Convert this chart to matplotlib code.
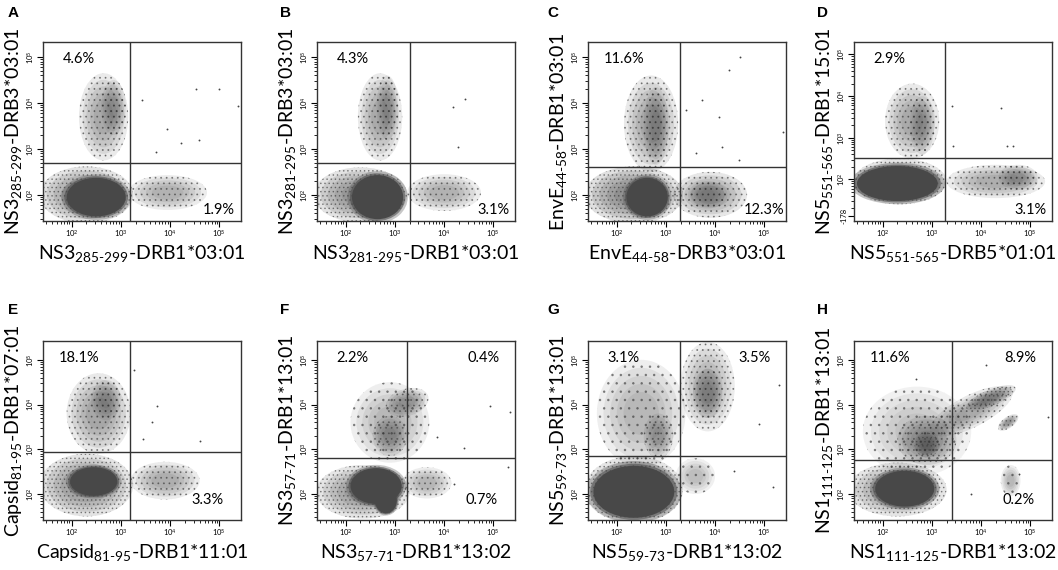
import numpy as np
import matplotlib
matplotlib.use('Agg')
import matplotlib.pyplot as plt
from matplotlib.patches import Ellipse

plt.rcParams['font.family'] = ['Lato', 'DejaVu Sans']
plt.rcParams['mathtext.fontset'] = 'custom'
plt.rcParams['mathtext.rm'] = 'Lato'
plt.rcParams['mathtext.it'] = 'Lato:italic'
plt.rcParams['mathtext.bf'] = 'Lato:bold'
plt.rcParams['hatch.linewidth'] = 0.6

# panel texts
letters = ['A', 'B', 'C', 'D', 'E', 'F', 'G', 'H']
xlabels = [r'NS3$_{\text{285-299}}$-DRB1*03:01', r'NS3$_{\text{281-295}}$-DRB1*03:01',
           r'EnvE$_{\text{44-58}}$-DRB3*03:01', r'NS5$_{\text{551-565}}$-DRB5*01:01',
           r'Capsid$_{\text{81-95}}$-DRB1*11:01', r'NS3$_{\text{57-71}}$-DRB1*13:02',
           r'NS5$_{\text{59-73}}$-DRB1*13:02', r'NS1$_{\text{111-125}}$-DRB1*13:02']
ylabels = [r'NS3$_{\text{285-299}}$-DRB3*03:01', r'NS3$_{\text{281-295}}$-DRB3*03:01',
           r'EnvE$_{\text{44-58}}$-DRB1*03:01', r'NS5$_{\text{551-565}}$-DRB1*15:01',
           r'Capsid$_{\text{81-95}}$-DRB1*07:01', r'NS3$_{\text{57-71}}$-DRB1*13:01',
           r'NS5$_{\text{59-73}}$-DRB1*13:01', r'NS1$_{\text{111-125}}$-DRB1*13:01']

# quadrant gates (log10 units)
gate_x = [3.18, 3.30, 3.29, 3.27, 3.18, 3.24, 3.28, 3.41]
gate_y = [2.70, 2.70, 2.61, 2.52, 2.93, 2.80, 2.84, 2.76]

# quadrant percentages: upper-left, upper-right, lower-right (None = not shown)
pct_ul = ['4.6%', '4.3%', '11.6%', '2.9%', '18.1%', '2.2%', '3.1%', '11.6%']
pct_ur = [None, None, None, None, None, '0.4%', '3.5%', '8.9%']
pct_lr = ['1.9%', '3.1%', '12.3%', '3.1%', '3.3%', '0.7%', None, '0.2%']

# solid cores of cell populations, log10 units: (cx, cy, half width, half height, angle)
dense_A = [(2.50, 1.95, 0.60, 0.42, 0)]
dense_B = [(2.65, 1.95, 0.52, 0.48, 0)]
dense_C = [(2.62, 1.95, 0.42, 0.42, 0)]
dense_D = [(2.30, 1.90, 0.82, 0.42, 0)]
dense_E = [(2.45, 2.28, 0.48, 0.32, 0)]
dense_F = [(2.62, 2.18, 0.52, 0.40, 0), (2.82, 1.85, 0.22, 0.28, 0)]
dense_G = [(2.35, 2.05, 0.82, 0.58, 0)]
dense_H = [(2.45, 2.12, 0.60, 0.40, 0)]

# scattered events: (cx, cy, half width, half height, angle, density)
cloud_A = [(2.30, 2.00, 0.95, 0.62, 0, 0.8), (2.65, 3.70, 0.50, 0.95, 0, 0.5),
           (2.85, 3.90, 0.25, 0.60, 0, 0.4), (3.95, 2.05, 0.80, 0.38, 0, 0.4)]
cloud_B = [(2.30, 2.00, 0.95, 0.60, 0, 0.8), (2.70, 3.70, 0.45, 0.95, 0, 0.5),
           (2.85, 3.90, 0.22, 0.70, 0, 0.4), (4.00, 2.05, 0.75, 0.40, 0, 0.4)]
cloud_C = [(2.35, 2.00, 1.00, 0.62, 0, 0.9), (2.70, 3.55, 0.55, 1.05, 0, 0.55),
           (2.80, 3.50, 0.25, 0.85, 0, 0.5), (3.90, 2.00, 0.75, 0.50, 0, 0.6),
           (3.85, 2.00, 0.40, 0.30, 0, 0.5)]
cloud_D = [(2.35, 1.95, 0.95, 0.55, 0, 0.7), (2.60, 3.40, 0.55, 0.90, 0, 0.5),
           (2.80, 3.30, 0.25, 0.70, 0, 0.4), (4.30, 1.95, 1.00, 0.40, 0, 0.45),
           (4.75, 2.05, 0.40, 0.30, 0, 0.5)]
cloud_E = [(2.30, 2.20, 0.95, 0.70, 0, 0.8), (2.55, 3.80, 0.65, 0.90, 0, 0.55),
           (2.70, 4.10, 0.30, 0.45, 0, 0.5), (3.90, 2.30, 0.70, 0.42, 0, 0.45)]
cloud_F = [(2.35, 2.05, 0.95, 0.60, 0, 0.7), (2.90, 3.30, 0.35, 0.45, 0, 0.55),
           (3.25, 4.05, 0.45, 0.30, 20, 0.55), (2.90, 3.60, 0.80, 0.90, 0, 0.3),
           (3.65, 2.25, 0.50, 0.35, 0, 0.35)]
cloud_G = [(2.35, 2.10, 1.00, 0.75, 0, 0.7), (2.50, 3.80, 0.90, 1.20, 0, 0.3),
           (2.85, 3.30, 0.30, 0.50, 0, 0.45), (3.85, 4.40, 0.55, 1.00, 0, 0.4),
           (3.85, 4.25, 0.30, 0.55, 0, 0.6), (3.60, 2.40, 0.40, 0.40, 0, 0.25)]
cloud_H = [(2.30, 2.10, 1.00, 0.60, 0, 0.7), (2.90, 3.20, 0.60, 0.55, 0, 0.6),
           (2.90, 3.10, 0.25, 0.28, 0, 0.9), (3.80, 3.85, 0.95, 0.35, 30, 0.5),
           (4.20, 4.15, 0.55, 0.18, 25, 0.8), (4.55, 3.60, 0.25, 0.12, 40, 0.8),
           (2.70, 3.40, 1.10, 1.00, 0, 0.2), (4.60, 2.30, 0.20, 0.35, 0, 0.3)]

# isolated events (log10 x, log10 y)
sparse_A = [(4.53, 4.30), (5.00, 4.30), (3.43, 4.07), (5.37, 3.93), (4.59, 3.20),
            (4.22, 3.13), (3.71, 2.93), (3.94, 3.43)]
sparse_B = [(4.43, 4.09), (4.19, 3.91), (4.29, 3.04)]
sparse_C = [(4.51, 5.00), (4.29, 4.72), (4.08, 3.70), (3.73, 4.07), (4.14, 3.04),
            (3.61, 2.91), (5.37, 3.37), (4.49, 2.76), (3.41, 3.85)]
sparse_D = [(3.41, 3.76), (4.41, 3.71), (4.53, 2.79), (4.65, 2.79), (3.43, 2.79)]
sparse_E = [(3.26, 4.78), (3.64, 3.62), (3.46, 3.22), (4.60, 3.18), (3.74, 3.96)]
sparse_F = [(5.34, 3.84), (4.94, 3.96), (4.40, 3.04), (3.86, 3.27), (5.30, 2.60), (4.20, 2.22)]
sparse_G = [(5.18, 2.16), (4.90, 3.56), (4.38, 2.51), (5.30, 4.44)]
sparse_H = [(4.10, 4.89), (5.35, 3.73), (3.80, 2.00), (4.78, 2.44), (2.67, 4.56)]

dense = [dense_A, dense_B, dense_C, dense_D, dense_E, dense_F, dense_G, dense_H]
clouds = [cloud_A, cloud_B, cloud_C, cloud_D, cloud_E, cloud_F, cloud_G, cloud_H]
sparse = [sparse_A, sparse_B, sparse_C, sparse_D, sparse_E, sparse_F, sparse_G, sparse_H]

W, H = 1058, 570
fig = plt.figure(figsize=(W / 100, H / 100), dpi=100)
fig.patch.set_facecolor('white')

col_left = [43, 317, 588, 854]
row_top = [42, 341]
box_w, box_h = 198, 179
letter_x = [8, 280, 547, 817]
letter_y = [13, 310]

core_col = '#484848'
ring_scale = [1.0, 0.85, 0.7, 0.55, 0.4]

for i in range(8):
    r, c = divmod(i, 4)
    ax = fig.add_axes([col_left[c] / W, 1 - (row_top[r] + box_h) / H, box_w / W, box_h / H])
    xlim = (1.42, 5.44)
    if i == 3:
        ylim = (1.0, 5.3)
    elif r == 0:
        ylim = (1.43, 5.33)
    else:
        ylim = (1.42, 5.42)

    for cx, cy, hw, hh, ang, d in clouds[i]:
        for s in ring_scale:
            ax.add_patch(Ellipse((cx, cy), 2 * hw * s, 2 * hh * s, angle=ang,
                                 facecolor='#4a4a4a', alpha=0.05 + 0.13 * d, lw=0))
        ax.add_patch(Ellipse((cx, cy), 2 * hw, 2 * hh, angle=ang, facecolor='none',
                             edgecolor='#333333', hatch='.' * (2 + int(3 * d)), lw=0,
                             alpha=0.5))
    for cx, cy, hw, hh, ang in dense[i]:
        for s, a in [(1.18, 0.3), (1.08, 0.55)]:
            ax.add_patch(Ellipse((cx, cy), 2 * hw * s, 2 * hh * s, angle=ang,
                                 facecolor=core_col, alpha=a, lw=0))
        ax.add_patch(Ellipse((cx, cy), 2 * hw, 2 * hh, angle=ang, facecolor=core_col, lw=0))
    sx = [p[0] for p in sparse[i]]
    sy = [p[1] for p in sparse[i]]
    ax.scatter(sx, sy, s=1.8, c='#444444', lw=0)

    ax.axvline(gate_x[i], color='#333333', lw=1.0)
    ax.axhline(gate_y[i], color='#333333', lw=1.0)

    ax.set_xlim(xlim)
    ax.set_ylim(ylim)

    ax.set_xticks([2, 3, 4, 5])
    ax.set_xticklabels([r'$10^2$', r'$10^3$', r'$10^4$', r'$10^5$'], fontsize=5.5)
    yt = [2, 3, 4, 5]
    ytl = [r'$10^2$', r'$10^3$', r'$10^4$', r'$10^5$']
    if i == 3:
        yt = [1.12] + yt
        ytl = ['-178'] + ytl
    ax.set_yticks(yt)
    ax.set_yticklabels(ytl, fontsize=5.5, rotation=90, va='center')
    minors = [np.log10(k * 10.0 ** n) for n in range(1, 5) for k in range(2, 10)]
    ax.set_xticks([m for m in minors if xlim[0] < m < xlim[1]], minor=True)
    ax.set_yticks([m for m in minors if ylim[0] < m < ylim[1]], minor=True)
    ax.tick_params(which='major', length=4, width=0.8, pad=1)
    ax.tick_params(which='minor', length=2.5, width=0.6)
    for sp in ax.spines.values():
        sp.set_color('#333333')
        sp.set_linewidth(1.0)

    ax.set_xlabel(xlabels[i], fontsize=14, labelpad=3)
    ax.set_ylabel(ylabels[i], fontsize=14, labelpad=1)

    lr_x = 0.89 if r == 0 else 0.83
    lr_y = 0.06 if r == 0 else 0.11
    ax.text(0.18, 0.905, pct_ul[i], transform=ax.transAxes, ha='center', va='center', fontsize=10.5)
    if pct_ur[i]:
        ax.text(0.84, 0.905, pct_ur[i], transform=ax.transAxes, ha='center', va='center', fontsize=10.5)
    if pct_lr[i]:
        ax.text(lr_x, lr_y, pct_lr[i], transform=ax.transAxes, ha='center', va='center', fontsize=10.5)

    fig.text(letter_x[c] / W, 1 - letter_y[r] / H, letters[i], fontsize=11, fontweight='bold',
             family=['Liberation Sans', 'DejaVu Sans'], ha='left', va='center')

fig.savefig('out.png', dpi=100)
